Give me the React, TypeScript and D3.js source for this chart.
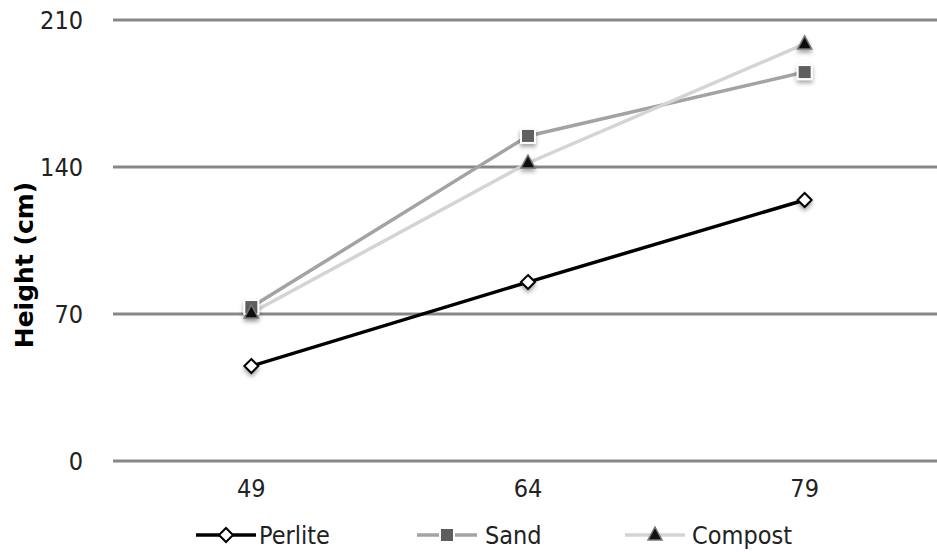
import React from "react";
import * as d3 from "d3";

const categories = ["49", "64", "79"];
const perlite = [45.2, 85.2, 124.3];
const sand = [73.3, 154.8, 185.2];
const compost = [70.5, 141.9, 198.6];
const yTicks = [0, 70, 140, 210];

const W = 937;
const H = 552;
const FONT = "'DejaVu Sans Condensed', 'DejaVu Sans', sans-serif";

const series = [
  { name: "Perlite", values: perlite, color: "#000000", marker: "diamond" },
  { name: "Sand", values: sand, color: "#a3a3a3", marker: "square" },
  { name: "Compost", values: compost, color: "#d4d4d4", marker: "triangle" },
];

// legend slot x positions (line start) and text start
const legendLine = [196, 417, 625];
const legendText = [259, 485, 692];

const Marker = ({ type, x, y }: { type: string; x: number; y: number }) => {
  if (type === "diamond") {
    return (
      <path
        d={`M${x},${y - 7}L${x + 7},${y}L${x},${y + 7}L${x - 7},${y}Z`}
        fill="#fff"
        stroke="#000"
        strokeWidth={2}
      />
    );
  }
  if (type === "square") {
    return (
      <rect x={x - 7} y={y - 7} width={14} height={14} fill="#5e5e5e" stroke="#fff" strokeWidth={2} />
    );
  }
  return (
    <path
      d={`M${x},${y - 8}L${x + 7},${y + 5}L${x - 7},${y + 5}Z`}
      fill="#111"
      stroke="#777"
      strokeWidth={1.5}
    />
  );
};

export default function App() {
  const x = d3.scaleBand().domain(categories).range([113, 943]);
  const y = d3.scaleLinear().domain([0, 210]).range([461, 20]);
  const cx = (c: string) => (x(c) as number) + x.bandwidth() / 2;

  const line = d3
    .line<number>()
    .x((_, i) => cx(categories[i]))
    .y((d) => y(d));

  return (
    <svg width={W} height={H} style={{ position: "absolute", left: 0, top: 0, background: "#fff" }}>
      <defs>
        <filter id="shadow" x="-50%" y="-50%" width="200%" height="200%">
          <feDropShadow dx="0" dy="3" stdDeviation="2" floodColor="#000" floodOpacity="0.35" />
        </filter>
      </defs>

      {/* gridlines */}
      {yTicks.map((t) => (
        <line key={t} x1={113} x2={W} y1={y(t)} y2={y(t)} stroke="#878787" strokeWidth={3} />
      ))}

      {/* y tick labels */}
      {yTicks.map((t) => (
        <text key={t} x={83} y={y(t) + 9} textAnchor="end" fontFamily={FONT} fontSize={25} fill="#222">
          {t}
        </text>
      ))}

      {/* y title */}
      <text
        transform="translate(33,265) rotate(-90)"
        textAnchor="middle"
        fontFamily="'DejaVu Sans', sans-serif"
        fontWeight="bold"
        fontSize={25}
        fill="#000"
      >
        Height (cm)
      </text>

      {/* x labels */}
      {categories.map((c) => (
        <text key={c} x={cx(c)} y={497} textAnchor="middle" fontFamily={FONT} fontSize={25} fill="#222">
          {c}
        </text>
      ))}

      {/* lines */}
      {series.map((s) => (
        <path key={s.name} d={line(s.values) || ""} fill="none" stroke={s.color} strokeWidth={3.5} />
      ))}

      {/* markers */}
      {series.map((s) => (
        <g key={s.name} filter="url(#shadow)">
          {s.values.map((v, i) => (
            <Marker key={i} type={s.marker} x={cx(categories[i])} y={y(v)} />
          ))}
        </g>
      ))}

      {/* legend */}
      {series.map((s, i) => (
        <g key={s.name}>
          <line
            x1={legendLine[i]}
            x2={legendLine[i] + 60}
            y1={535}
            y2={535}
            stroke={s.color}
            strokeWidth={3.5}
          />
          <Marker type={s.marker} x={legendLine[i] + 30} y={535} />
          <text x={legendText[i]} y={544} fontFamily={FONT} fontSize={25} fill="#222">
            {s.name}
          </text>
        </g>
      ))}
    </svg>
  );
}
